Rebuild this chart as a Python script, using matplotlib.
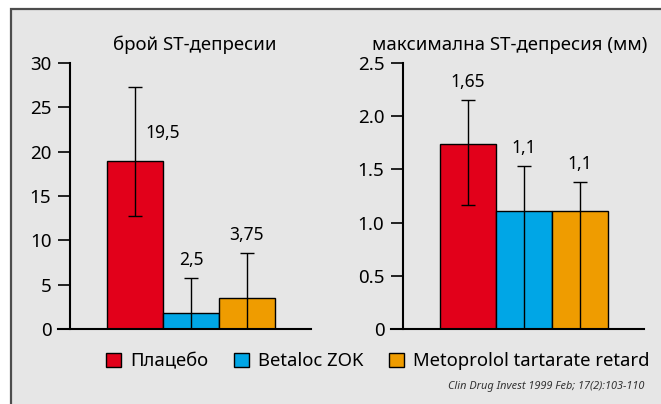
import numpy as np
import matplotlib
matplotlib.use('Agg')
import matplotlib.pyplot as plt
from matplotlib.patches import Patch, Rectangle

plt.rcParams['font.family'] = ['Noto Sans', 'DejaVu Sans']

groups = ['Плацебо', 'Betaloc ZOK', 'Metoprolol tartarate retard']
colors = ['#e2001a', '#00a6e6', '#ef9c00']

# брой ST-депресии
count_mean = [19.0, 1.8, 3.5]
count_lo = [12.7, 0.0, 0.0]
count_hi = [27.3, 5.8, 8.6]
count_lbl = ['19,5', '2,5', '3,75']

# максимална ST-депресия (мм)
depth_mean = [1.74, 1.11, 1.11]
depth_lo = [1.17, 0.0, 0.0]
depth_hi = [2.15, 1.53, 1.38]
depth_lbl = ['1,65', '1,1', '1,1']

titles = ['брой ST-депресии', 'максимална ST-депресия (мм)']
yticks = [[0, 5, 10, 15, 20, 25, 30], [0, 0.5, 1.0, 1.5, 2.0, 2.5]]
ytick_lbl = [['0', '5', '10', '15', '20', '25', '30'],
             ['0', '0.5', '1.0', '1.5', '2.0', '2.5']]

W, H = 661, 404
fig = plt.figure(figsize=(W / 100, H / 100), dpi=100)
fig.patch.set_facecolor('white')
frame = Rectangle((11 / W, -0.05), 1.1, 1 - 9 / H + 0.05,
                  transform=fig.transFigure, facecolor='#e6e6e6',
                  edgecolor='#4d4d4d', lw=1.6, zorder=-5)
fig.patches.append(frame)

x = np.arange(3)
panels = [
    (count_mean, count_lo, count_hi, count_lbl, 30),
    (depth_mean, depth_lo, depth_hi, depth_lbl, 2.5),
]
lefts = [58, 391]
title_x = [0.54, 0.47]
for k, (m, lo, hi, lbl, ymax) in enumerate(panels):
    ax = fig.add_axes([lefts[k] / W, 75 / H, 253 / W, 266 / H])
    ax.set_facecolor('none')
    ax.bar(x, m, width=1.0, color=colors, edgecolor='black', lw=1.0, zorder=2)
    m = np.array(m)
    err = [m - np.array(lo), np.array(hi) - m]
    ax.errorbar(x, m, yerr=err, fmt='none', ecolor='black', elinewidth=1.0,
                capsize=5, capthick=1.0, zorder=3)
    for i in range(3):
        if k == 0 and i == 0:
            ax.annotate(lbl[i], (i + 0.5, m[i]), xytext=(0, 20),
                        textcoords='offset points', ha='center', va='center',
                        fontsize=12.5)
        else:
            ax.annotate(lbl[i], (i, hi[i]), xytext=(0, 13),
                        textcoords='offset points', ha='center', va='center',
                        fontsize=12.5)
    ax.set_xlim(-1.375, 3.143)
    ax.set_ylim(0, ymax)
    for s in ['top', 'right']:
        ax.spines[s].set_visible(False)
    ax.spines['left'].set_position(('data', -1.16))
    ax.spines['left'].set_linewidth(1.5)
    ax.spines['bottom'].set_linewidth(1.5)
    ax.set_xticks([])
    ax.set_yticks(yticks[k])
    ax.set_yticklabels(ytick_lbl[k])
    ax.tick_params(axis='y', length=8.5, width=1.2, pad=5, labelsize=13.5)
    ax.set_title(titles[k], fontsize=13.4, pad=9, x=title_x[k])

handles = [Patch(facecolor=c, edgecolor='black', lw=1.0) for c in colors]
fig.legend(handles, groups, loc='center', bbox_to_anchor=(378 / W, 1 - 361 / H),
           ncol=3, frameon=False, fontsize=13.3, handlelength=0.8, handleheight=0.8,
           handletextpad=0.5, columnspacing=1.4)

fig.text(644 / W, 1 - 387 / H, 'Clin Drug Invest 1999 Feb; 17(2):103-110',
         ha='right', va='center', fontsize=7.9, style='italic', color='#333333')

fig.savefig('out.png', dpi=100)
